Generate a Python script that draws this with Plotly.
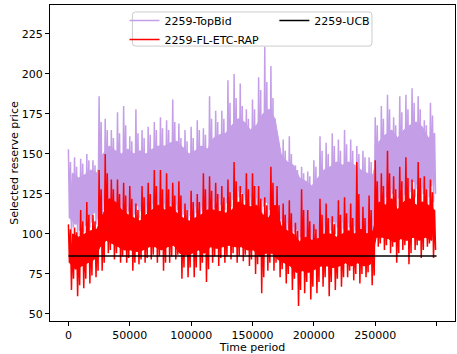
import plotly.graph_objects as go

# ---- data (per 5000-period segment) ----
seg_start = list(range(0, 300000, 5000))          # 60 segments
sub_offsets = [0, 833, 1667, 2500, 3333, 4167]

# 2259-TopBid
topbid_spike_hi = [153, 148, 147, 150, 146, 186, 172, 165, 176, 180,
                   161, 178, 165, 167, 170, 173, 171, 184, 169, 165,
                   167, 171, 166, 186, 177, 177, 196, 200, 194, 178,
                   184, 198, 217, 205, 160, 159, 161, 143, 142, 139,
                   146, 161, 157, 163, 159, 165, 159, 155, 152, 148,
                   173, 180, 187, 173, 186, 187, 191, 186, 171, 182]
topbid_hi2 = [145, 142, 144, 146, 143, 170, 165, 160, 163, 168,
              158, 163, 160, 162, 165, 166, 165, 170, 160, 158,
              160, 165, 162, 172, 170, 172, 182, 185, 180, 172,
              178, 190, 195, 185, 155, 152, 150, 140, 138, 136,
              142, 152, 150, 155, 152, 156, 152, 150, 148, 145,
              168, 172, 178, 168, 176, 178, 182, 178, 168, 174]
topbid_core_hi = [138, 135, 137, 140, 138, 150, 155, 152, 150, 153,
                  150, 152, 150, 153, 155, 155, 157, 158, 154, 150,
                  152, 155, 153, 160, 162, 163, 168, 172, 170, 165,
                  168, 175, 178, 172, 150, 145, 143, 135, 133, 130,
                  135, 140, 142, 145, 143, 145, 143, 140, 138, 137,
                  158, 162, 165, 160, 165, 168, 170, 167, 160, 163]
topbid_core_lo = [110, 106, 108, 111, 113, 120, 122, 120, 118, 118,
                  117, 118, 117, 118, 120, 120, 118, 120, 117, 115,
                  117, 118, 116, 120, 122, 123, 125, 128, 126, 123,
                  123, 122, 120, 118, 112, 108, 106, 103, 101, 100,
                  102, 104, 106, 108, 107, 108, 106, 104, 104, 106,
                  125, 128, 130, 127, 129, 131, 133, 130, 128, 130]
topbid_lo2 = [104, 102, 105, 107, 109, 115, 117, 116, 113, 114,
              112, 114, 113, 114, 116, 116, 114, 115, 112, 111,
              113, 114, 112, 116, 118, 119, 121, 123, 121, 118,
              118, 117, 115, 113, 107, 103, 101, 98, 96, 95,
              98, 100, 102, 104, 103, 104, 102, 100, 100, 102,
              120, 123, 125, 122, 124, 126, 128, 125, 123, 125]
topbid_spike_lo = [100, 98, 101, 104, 106, 110, 113, 112, 109, 110,
                   108, 110, 109, 111, 112, 112, 110, 111, 108, 107,
                   109, 110, 108, 112, 114, 115, 117, 119, 117, 114,
                   114, 113, 110, 108, 102, 98, 96, 93, 92, 91,
                   94, 96, 98, 100, 99, 100, 98, 96, 96, 98,
                   115, 118, 120, 117, 119, 121, 123, 120, 118, 120]

# 2259-FL-ETC-RAP
rap_spike_hi = [106, 104, 115, 120, 112, 140, 150, 134, 134, 132,
                130, 119, 130, 132, 140, 140, 138, 132, 133, 119,
                127, 125, 138, 136, 132, 130, 134, 145, 130, 138,
                138, 130, 123, 142, 130, 119, 121, 107, 128, 115,
                106, 122, 119, 111, 121, 123, 119, 145, 117, 124,
                146, 138, 152, 136, 142, 148, 134, 145, 136, 134]
rap_hi2 = [103, 101, 108, 112, 108, 128, 138, 128, 125, 124,
           122, 115, 123, 125, 130, 128, 128, 124, 124, 115,
           120, 120, 128, 127, 125, 123, 126, 133, 125, 128,
           130, 122, 118, 132, 118, 112, 113, 102, 115, 108,
           103, 112, 110, 106, 112, 113, 110, 125, 110, 115,
           133, 130, 138, 128, 133, 135, 128, 135, 128, 126]
rap_core_hi = [100, 98, 100, 102, 103, 112, 122, 120, 115, 112,
               110, 108, 112, 115, 118, 115, 117, 113, 110, 108,
               110, 112, 115, 115, 114, 113, 115, 120, 118, 117,
               118, 112, 110, 118, 105, 102, 100, 95, 98, 96,
               97, 100, 100, 98, 100, 102, 100, 103, 100, 102,
               120, 118, 122, 115, 120, 122, 118, 120, 118, 115]
rap_core_lo = [82, 78, 80, 82, 84, 92, 96, 94, 92, 90,
               90, 89, 90, 92, 92, 90, 92, 93, 88, 87,
               88, 90, 88, 92, 91, 92, 93, 92, 92, 90,
               90, 86, 88, 88, 84, 82, 80, 76, 77, 76,
               78, 80, 80, 79, 80, 82, 80, 82, 80, 81,
               98, 98, 97, 95, 97, 96, 98, 96, 98, 96]
rap_lo2 = [72, 68, 72, 74, 77, 82, 90, 88, 86, 85,
           82, 84, 85, 87, 86, 82, 86, 87, 79, 79,
           79, 82, 78, 86, 85, 86, 88, 86, 87, 84,
           81, 73, 82, 82, 78, 75, 72, 65, 70, 67,
           70, 73, 70, 72, 73, 77, 75, 75, 76, 74,
           94, 93, 92, 88, 93, 88, 93, 90, 94, 90]
rap_spike_lo = [65, 61, 66, 69, 73, 77, 88, 84, 82, 82,
                77, 81, 82, 84, 82, 77, 82, 84, 72, 73,
                73, 77, 70, 82, 80, 82, 84, 82, 83, 80,
                75, 63, 77, 77, 73, 69, 65, 55, 63, 59,
                63, 67, 61, 65, 67, 73, 71, 69, 73, 68,
                92, 90, 88, 82, 90, 81, 90, 85, 92, 85]

# 2259-UCB
ucb_t = [0, 300000]
ucb_vals = [86.3, 86.3]

x_ticks = [0, 50000, 100000, 150000, 200000, 250000, 300000]
y_ticks = [50, 75, 100, 125, 150, 175, 200, 225]


def build(spike_hi, core_lo, hi2, spike_lo, core_hi, lo2):
    # alternate high / low readings so that the trace looks like dense noise
    xs, ys = [], []
    for k, s in enumerate(seg_start):
        vals = [spike_hi[k], core_lo[k], hi2[k], spike_lo[k], core_hi[k], lo2[k]]
        for off, v in zip(sub_offsets, vals):
            xs.append(s + off)
            ys.append(v)
    return xs, ys


def band(core_lo, core_hi):
    # dense core of the noisy trace: upper readings forward, lower readings back
    xs = [s + sub_offsets[4] for s in seg_start] + [s + sub_offsets[1] for s in reversed(seg_start)]
    ys = list(core_hi) + list(reversed(core_lo))
    return xs, ys


tb_x, tb_y = build(topbid_spike_hi, topbid_core_lo, topbid_hi2, topbid_spike_lo,
                   topbid_core_hi, topbid_lo2)
rp_x, rp_y = build(rap_spike_hi, rap_core_lo, rap_hi2, rap_spike_lo, rap_core_hi, rap_lo2)
tbb_x, tbb_y = band(topbid_core_lo, topbid_core_hi)
rpb_x, rpb_y = band(rap_core_lo, rap_core_hi)

LAV = "#C49FE8"
RED = "#FF0000"
font = dict(family="DejaVu Sans", size=11, color="#000000")

fig = go.Figure()
fig.add_trace(go.Scatter(x=tbb_x, y=tbb_y, mode="lines", fill="toself", fillcolor=LAV,
                         line=dict(color=LAV, width=1), showlegend=False,
                         legendgroup="tb", hoverinfo="skip"))
fig.add_trace(go.Scatter(x=tb_x, y=tb_y, mode="lines", name="2259-TopBid",
                         line=dict(color=LAV, width=1.5), legend="legend", legendrank=1,
                         legendgroup="tb"))
fig.add_trace(go.Scatter(x=rpb_x, y=rpb_y, mode="lines", fill="toself", fillcolor=RED,
                         line=dict(color=RED, width=1), showlegend=False,
                         legendgroup="rp", hoverinfo="skip"))
fig.add_trace(go.Scatter(x=rp_x, y=rp_y, mode="lines", name="2259-FL-ETC-RAP",
                         line=dict(color=RED, width=1.5), legend="legend", legendrank=2,
                         legendgroup="rp"))
fig.add_trace(go.Scatter(x=ucb_t, y=ucb_vals, mode="lines", name="2259-UCB",
                         line=dict(color="#000000", width=1.5), legend="legend2"))

# legend frame (matplotlib style, rounded)
x0, x1, y0, y1 = 0.2035, 0.795, 0.870, 0.978
rx, ry = 0.0074, 0.0095
path = (f"M {x0+rx},{y0} L {x1-rx},{y0} Q {x1},{y0} {x1},{y0+ry} "
        f"L {x1},{y1-ry} Q {x1},{y1} {x1-rx},{y1} L {x0+rx},{y1} "
        f"Q {x0},{y1} {x0},{y1-ry} L {x0},{y0+ry} Q {x0},{y0} {x0+rx},{y0} Z")
fig.add_shape(type="path", path=path, xref="paper", yref="paper",
              fillcolor="rgba(255,255,255,0.8)", line=dict(color="#cccccc", width=1),
              layer="above")

axis_common = dict(showline=True, linecolor="#000000", linewidth=1, mirror=True,
                   ticks="outside", ticklen=4, tickwidth=1, tickcolor="#000000",
                   showgrid=False, zeroline=False, tickfont=font)

fig.update_layout(
    width=457, height=354,
    margin=dict(l=49.5, r=2, t=5, b=33, autoexpand=False),
    paper_bgcolor="white", plot_bgcolor="white",
    font=font,
    xaxis=dict(range=[-15000, 315000], tickvals=x_ticks, tickformat="d",
               title=dict(text="Time period", font=font, standoff=0), automargin=False,
               **axis_common),
    yaxis=dict(range=[45.6, 243.1], tickvals=y_ticks,
               title=dict(text="Selected reserve price", font=font, standoff=0), automargin=False,
               **axis_common),
    legend=dict(x=0.184, y=0.997, xanchor="left", yanchor="top", bgcolor="rgba(0,0,0,0)",
                borderwidth=0, font=font, traceorder="normal"),
    legend2=dict(x=0.554, y=0.997, xanchor="left", yanchor="top", bgcolor="rgba(0,0,0,0)",
                 borderwidth=0, font=font),
    showlegend=True,
)

fig.write_html("out.html", config={"displayModeBar": False},
               post_script="document.body.style.margin='0';document.body.style.padding='0';")
